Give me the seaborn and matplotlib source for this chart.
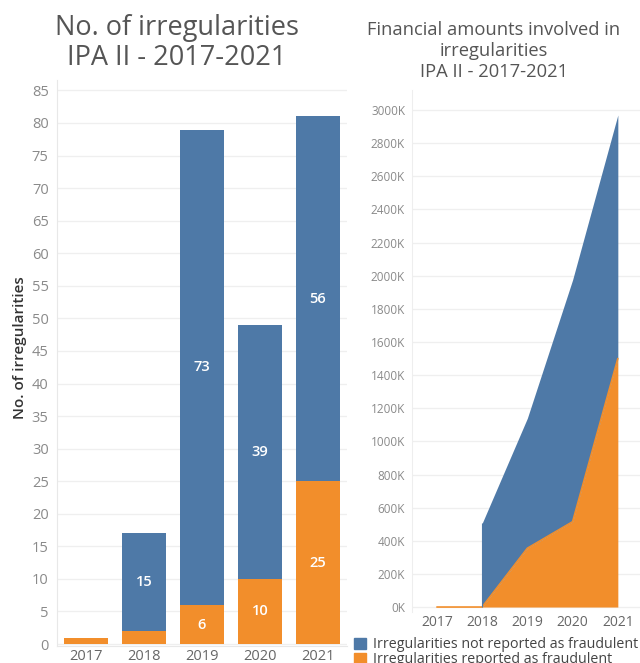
import matplotlib
matplotlib.use("Agg")
import matplotlib.pyplot as plt
import seaborn as sns
import numpy as np
import pandas as pd
from matplotlib.patches import Patch
from matplotlib.ticker import FuncFormatter

sns.set_style("white")
plt.rcParams['font.family'] = ['Open Sans', 'DejaVu Sans']

# data
years = ['2017', '2018', '2019', '2020', '2021']
fraud_count = [1, 2, 6, 10, 25]
non_fraud_count = [0, 15, 73, 39, 56]
# amounts in thousands of EUR
fraud_amount = [0, 0, 355, 515, 1500]
non_fraud_amount = [np.nan, 505, 785, 1460, 1470]

BLUE = '#4e79a7'
ORANGE = '#f28e2b'
GRID = '#efefef'
TICK = '#8a8a8a'
TITLE = '#555555'

counts = pd.DataFrame({'Year': years, 'fraud': fraud_count, 'non_fraud': non_fraud_count})
counts['total'] = counts['fraud'] + counts['non_fraud']

fig = plt.figure(figsize=(6.4, 6.63), dpi=100)
W, H = 640, 663


def axes_px(x0, y0, x1, y1):
    return fig.add_axes([x0 / W, 1 - y1 / H, (x1 - x0) / W, (y1 - y0) / H])


# ---- left: stacked bars of counts ----
ax1 = axes_px(57, 80, 347, 646)
sns.barplot(data=counts, x='Year', y='total', color=BLUE, width=0.75,
            saturation=1, linewidth=0, edgecolor='none', ax=ax1)
sns.barplot(data=counts, x='Year', y='fraud', color=ORANGE, width=0.75,
            saturation=1, linewidth=0, edgecolor='none', ax=ax1)
ax1.set_xlim(-0.5, 4.5)
ax1.set_ylim(-0.3, 86.6)
ax1.set_yticks(range(0, 90, 5))
ax1.yaxis.grid(True, color=GRID, lw=0.9)
ax1.set_axisbelow(True)
ax1.tick_params(axis='y', colors=TICK, labelsize=10.5, length=0, pad=6)
ax1.tick_params(axis='x', colors='#666666', labelsize=10.5, length=0, pad=2)
ax1.set_xlabel('')
ax1.set_ylabel('No. of irregularities', fontsize=11, color='#333333',
                fontweight='semibold')
ax1.yaxis.set_label_coords(-0.105, 0.528)
for s in ['top', 'right']:
    ax1.spines[s].set_visible(False)
for s in ['left', 'bottom']:
    ax1.spines[s].set_color('#e8e8e8')

for i, row in counts.iterrows():
    if row['fraud'] >= 5:
        ax1.text(i, row['fraud'] / 2, str(row['fraud']), ha='center', va='center',
                 color='white', fontsize=10.5, fontweight='semibold')
    if row['non_fraud'] >= 5:
        ax1.text(i, row['fraud'] + row['non_fraud'] / 2, str(row['non_fraud']),
                 ha='center', va='center', color='white', fontsize=10.5,
                 fontweight='semibold')

fig.text(177 / W, 1 - 43 / H, 'No. of irregularities\nIPA II - 2017-2021',
         ha='center', va='center', fontsize=19.5, color=TITLE, linespacing=1.1)

# ---- right: stacked area of amounts ----
ax2 = axes_px(412, 90, 640, 612)
xs = np.arange(len(years))
fr = np.array(fraud_amount, dtype=float)
nf = np.array(non_fraud_amount, dtype=float)
top = fr + nf
ax2.fill_between(xs, 0, fr, color=ORANGE, lw=0)
ax2.plot(xs, fr, color=ORANGE, lw=1.2)
ax2.fill_between(xs, fr, top, where=~np.isnan(nf), color=BLUE, lw=0)
ax2.vlines(1, 0, top[1], color=BLUE, lw=0.8)
ax2.set_xlim(-0.55, 4.49)
ax2.set_ylim(-30, 3121)
ax2.set_xticks(xs)
ax2.set_xticklabels(years)
ax2.set_yticks(range(0, 3001, 200))
ax2.yaxis.set_major_formatter(FuncFormatter(lambda v, p: f'{int(v)}K'))
ax2.yaxis.grid(True, color=GRID, lw=0.9)
ax2.set_axisbelow(True)
ax2.tick_params(axis='y', colors=TICK, labelsize=8.5, length=0, pad=5)
ax2.tick_params(axis='x', colors='#666666', labelsize=10, length=0, pad=2)
for s in ['top', 'right', 'bottom']:
    ax2.spines[s].set_visible(False)
ax2.spines['left'].set_color('#eeeeee')

fig.text(494 / W, 1 - 51 / H,
         'Financial amounts involved in\nirregularities\nIPA II - 2017-2021',
         ha='center', va='center', fontsize=13.2, color=TITLE, linespacing=1.2)

handles = [Patch(color=BLUE), Patch(color=ORANGE)]
fig.legend(handles, ['Irregularities not reported as fraudulent',
                     'Irregularities reported as fraudulent'],
           loc='upper left', bbox_to_anchor=(347 / W, 1 - 630 / H), frameon=False,
           fontsize=10.3, handlelength=0.8, handleheight=0.8, handletextpad=0.5,
           labelspacing=0.0, borderpad=0, labelcolor='#444444')

fig.savefig('out.png', dpi=100)
